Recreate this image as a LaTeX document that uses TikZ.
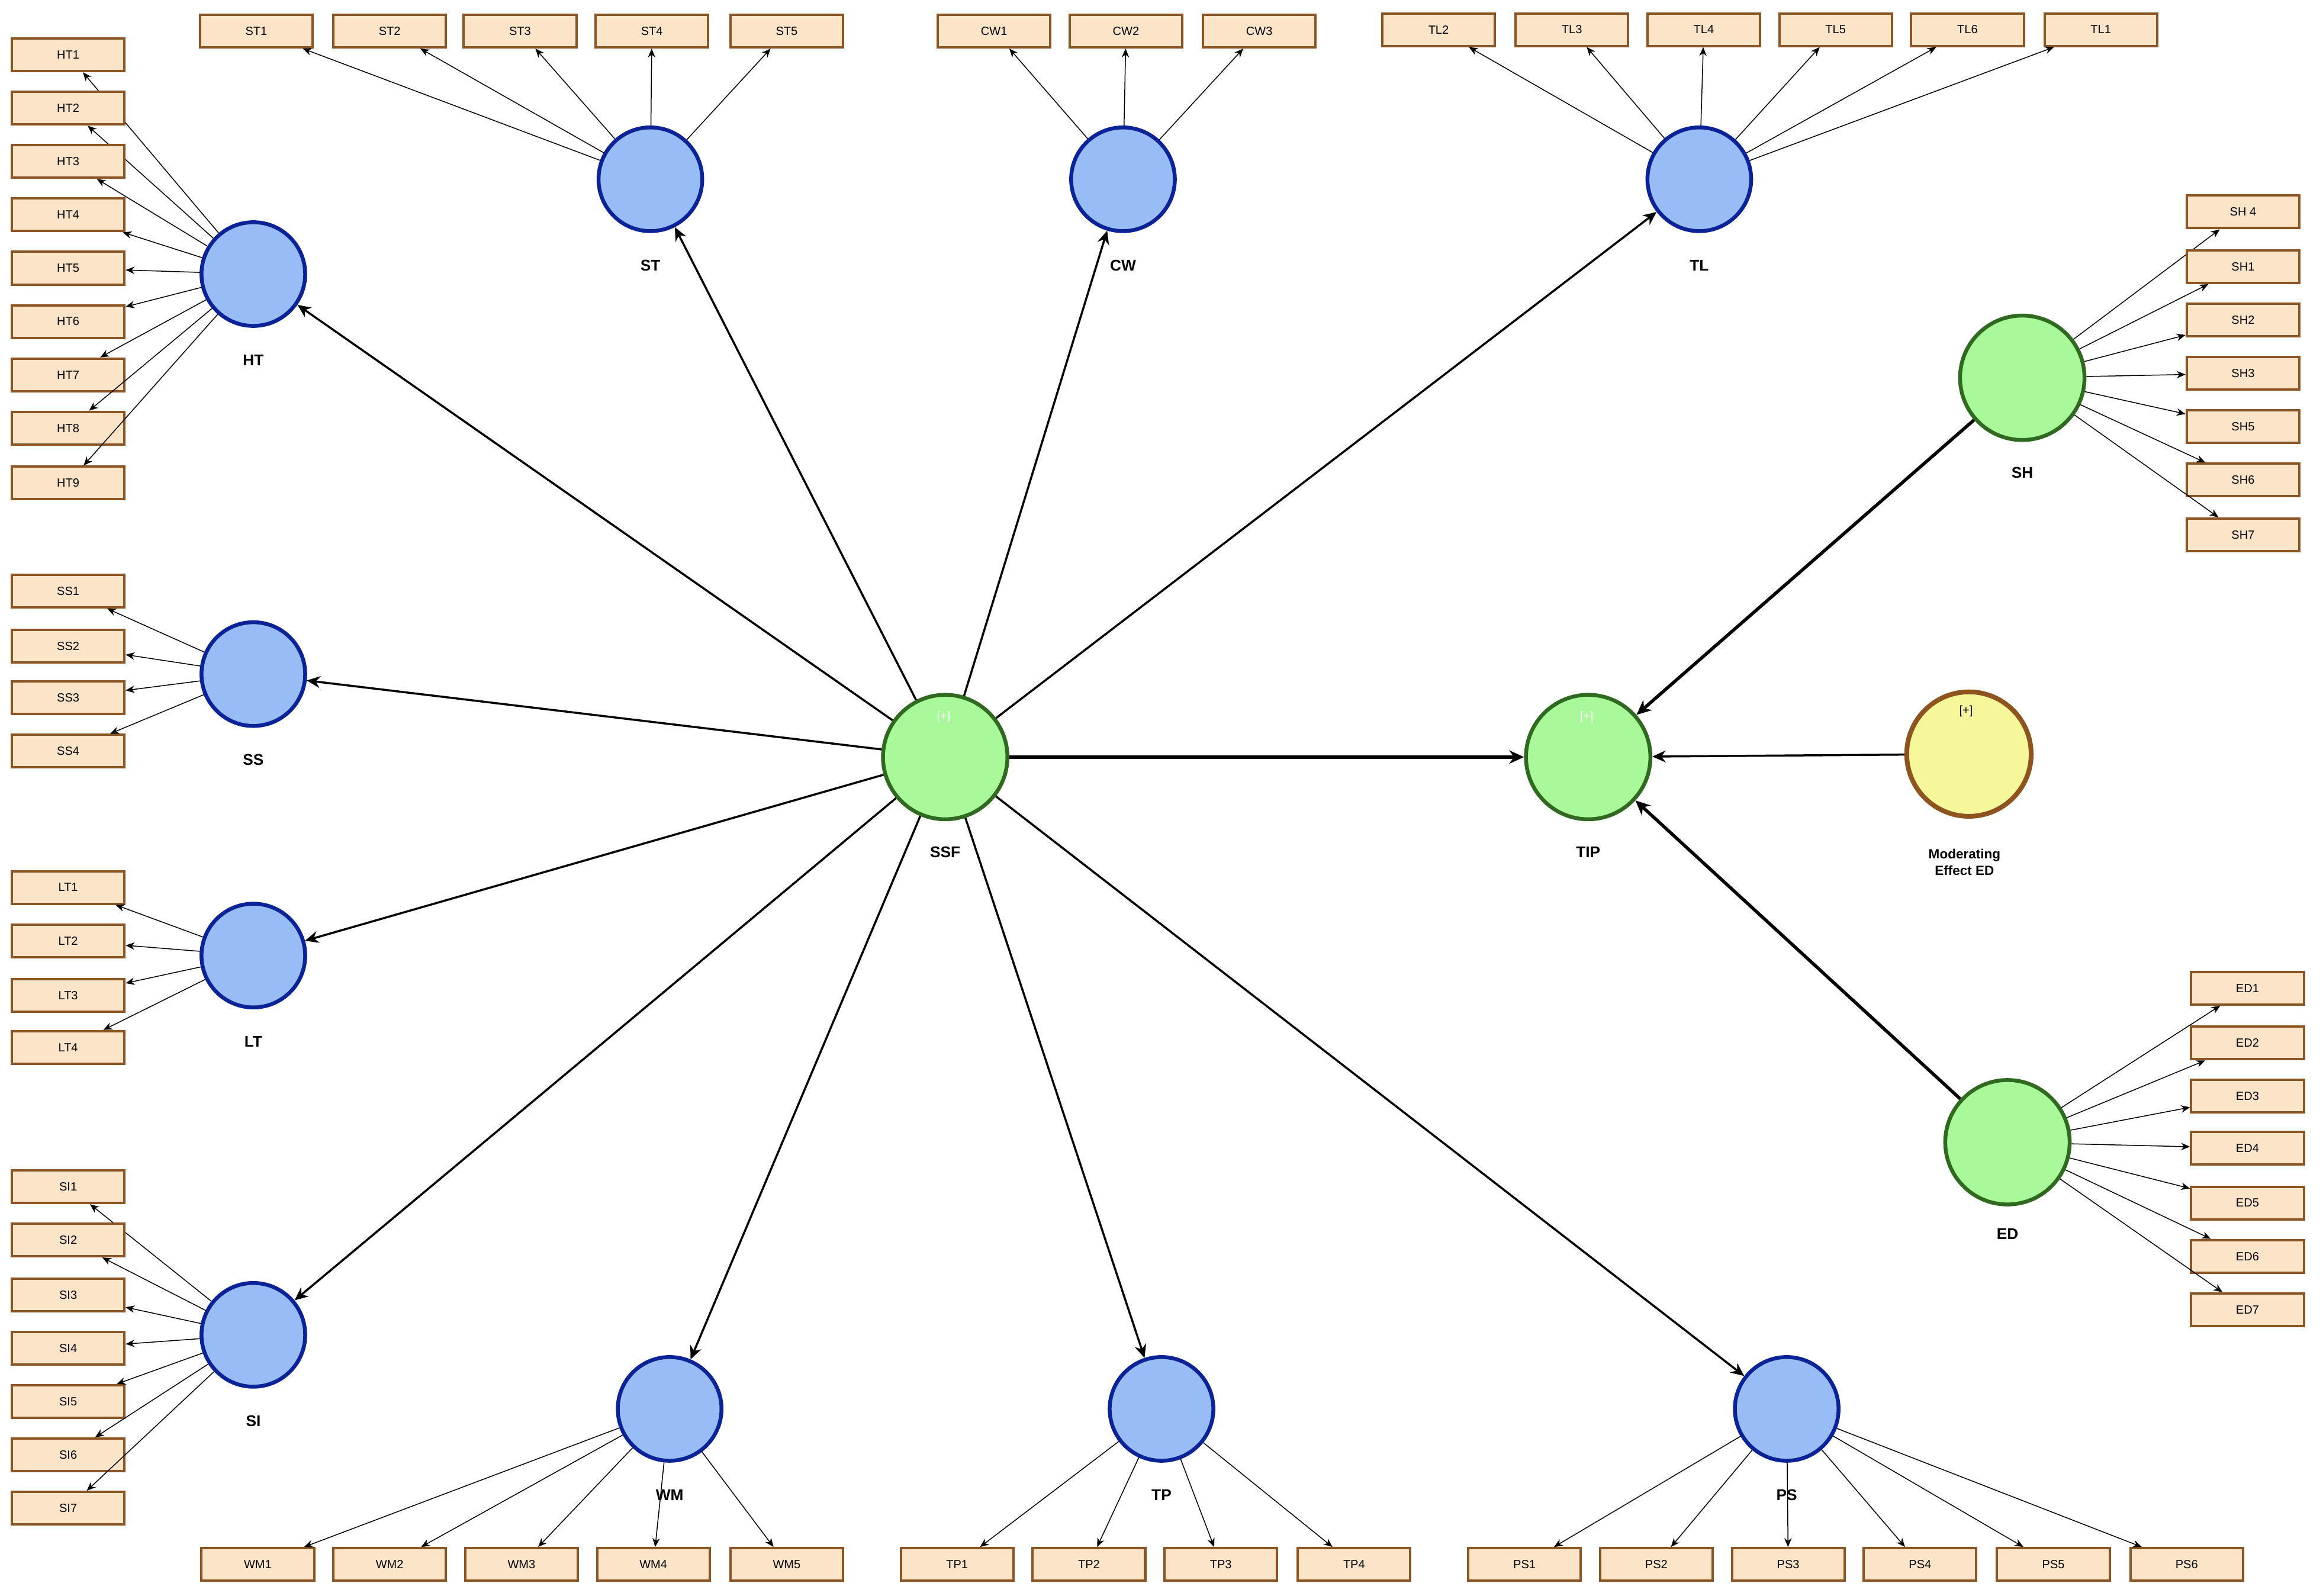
\documentclass[tikz,border=0pt]{standalone}
\usepackage{fontspec}
\setmainfont{Liberation Sans}
\usetikzlibrary{arrows.meta}
\definecolor{bfill}{HTML}{98BCF6}\definecolor{bdraw}{HTML}{0B2396}
\definecolor{gfill}{HTML}{A9F89A}\definecolor{gdraw}{HTML}{2F6A20}
\definecolor{yfill}{HTML}{F6F79A}\definecolor{ydraw}{HTML}{8E5420}
\definecolor{ifill}{HTML}{FCE4C8}\definecolor{idraw}{HTML}{8C5526}
\begin{document}
\begin{tikzpicture}[x=1pt,y=-1pt,
  lat/.style={circle,line width=2.6pt,minimum size=70pt,inner sep=0pt},
  blue/.style={lat,fill=bfill,draw=bdraw},
  green/.style={lat,fill=gfill,draw=gdraw,minimum size=84pt},
  yel/.style={lat,fill=yfill,draw=ydraw,line width=3.2pt,minimum size=84pt},
  ind/.style={rectangle,fill=ifill,draw=idraw,line width=1.6pt,minimum width=76pt,minimum height=22pt,inner sep=0pt,font=\fontsize{8}{9}\selectfont},
  lab/.style={font=\bfseries\fontsize{10.5}{12}\selectfont},
  ia/.style={-{Stealth[length=6pt,width=5pt]},line width=0.6pt},
  pa/.style={-{Stealth[length=9pt,width=8pt]},line width=1.4pt},
  ta/.style={-{Stealth[length=10pt,width=9pt]},line width=2.2pt}]
\useasboundingbox (0,0) rectangle (1568,1077);
\fill[white] (0,0) rectangle (1568,1077);
% latent
\foreach \n/\x/\y in {HT/171/185,ST/439/121,CW/758/121,TL/1147/121,SS/171/455,LT/171/645,SI/171/901,WM/452/951,TP/784/951,PS/1206/951}{
  \node[blue] (\n) at (\x,\y) {};
  \node[lab] at (\x,\y+58) {\n};}
\node[green] (SSF) at (638,511) {}; \node[lab] at (638,575) {SSF};
\node[green] (TIP) at (1072,511) {}; \node[lab] at (1072,575) {TIP};
\node[green] (SH) at (1365,255) {}; \node[lab] at (1365,319) {SH};
\node[green] (ED) at (1355,771) {}; \node[lab] at (1355,833) {ED};
\node[yel] (ME) at (1329,509) {};
\node[font=\bfseries\fontsize{9}{11}\selectfont,align=center] at (1326,582) {Moderating\\Effect ED};
\node[white,font=\fontsize{8}{9}\selectfont] at (637,484) {[+]};
\node[white,font=\fontsize{8}{9}\selectfont] at (1071,484) {[+]};
\node[font=\fontsize{8}{9}\selectfont] at (1327,480) {[+]};
% indicators
\foreach \i/\y in {1/37,2/73,3/109,4/145,5/181,6/217,7/253,8/289,9/326}{\node[ind] (HT\i) at (46,\y) {HT\i}; \draw[ia] (HT) -- (HT\i);}
\foreach \i/\y in {1/399,2/436,3/471,4/507}{\node[ind] (SS\i) at (46,\y) {SS\i}; \draw[ia] (SS) -- (SS\i);}
\foreach \i/\y in {1/599,2/635,3/672,4/707}{\node[ind] (LT\i) at (46,\y) {LT\i}; \draw[ia] (LT) -- (LT\i);}
\foreach \i/\y in {1/801,2/837,3/874,4/910,5/946,6/982,7/1018}{\node[ind] (SI\i) at (46,\y) {SI\i}; \draw[ia] (SI) -- (SI\i);}
\foreach \i/\x in {1/173,2/263,3/351,4/440,5/531}{\node[ind] (ST\i) at (\x,21) {ST\i}; \draw[ia] (ST) -- (ST\i);}
\foreach \i/\x in {1/671,2/760,3/850}{\node[ind] (CW\i) at (\x,21) {CW\i}; \draw[ia] (CW) -- (CW\i);}
\foreach \i/\x in {2/971,3/1061,4/1150,5/1239,6/1328,1/1418}{\node[ind] (TL\i) at (\x,20) {TL\i}; \draw[ia] (TL) -- (TL\i);}
\foreach \i/\y in {4/143,1/180,2/216,3/252,5/288,6/324,7/361}{\node[ind] (SH\i) at (1514,\y) {SH\ifnum\i=4\ \fi\i}; \draw[ia] (SH) -- (SH\i);}
\foreach \i/\y in {1/667,2/704,3/740,4/775,5/812,6/848,7/884}{\node[ind] (ED\i) at (1517,\y) {ED\i}; \draw[ia] (ED) -- (ED\i);}
\foreach \i/\x in {1/174,2/263,3/352,4/441,5/531}{\node[ind] (WM\i) at (\x,1056) {WM\i}; \draw[ia] (WM) -- (WM\i);}
\foreach \i/\x in {1/646,2/735,3/824,4/914}{\node[ind] (TP\i) at (\x,1056) {TP\i}; \draw[ia] (TP) -- (TP\i);}
\foreach \i/\x in {1/1029,2/1118,3/1207,4/1296,5/1386,6/1476}{\node[ind] (PS\i) at (\x,1056) {PS\i}; \draw[ia] (PS) -- (PS\i);}
% paths
\foreach \t in {HT,ST,CW,TL,SS,LT,SI,WM,TP,PS}{\draw[pa] (SSF) -- (\t);}
\draw[ta] (SSF) -- (TIP);
\draw[ta] (SH) -- (TIP);
\draw[ta] (ED) -- (TIP);
\draw[pa] (ME) -- (TIP);
\end{tikzpicture}
\end{document}
